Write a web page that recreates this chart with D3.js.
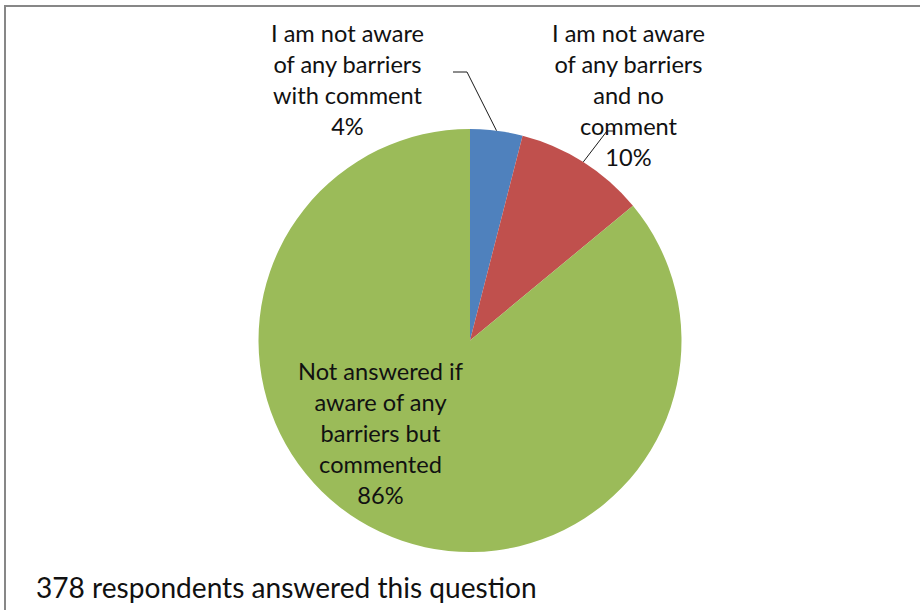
<!DOCTYPE html>
<html>
<head>
<meta charset="utf-8">
<script src="https://cdn.jsdelivr.net/npm/d3@7"></script>
<style>
  html, body { margin: 0; padding: 0; background: #fff; }
  svg { display: block; }
  text { font-family: Lato, "Open Sans", sans-serif; fill: #111; }
</style>
</head>
<body>
<svg id="chart" width="920" height="610"></svg>
<script>
// Survey answers about awareness of barriers (percent of respondents)
const categories = [
  "I am not aware of any barriers with comment",
  "I am not aware of any barriers and no comment",
  "Not answered if aware of any barriers but commented"
];
const values = [4, 10, 86];
const colors = ["#4F81BD", "#C0504D", "#9BBB59"];
// Wrapped label lines for each slice
const labelLines = [
  ["I am not aware", "of any barriers", "with comment"],
  ["I am not aware", "of any barriers", "and no", "comment"],
  ["Not answered if", "aware of any", "barriers but", "commented"]
];
const footnote = "378 respondents answered this question";

const W = 920, H = 610;
const cx = 470, cy = 340.5, R = 211.5;
const fontSize = 23.6, lineH = 31;

const svg = d3.select("#chart");

// Chart frame (left and top edges visible)
svg.append("path")
  .attr("d", `M5,${H} L5,6 L${W},6`)
  .attr("fill", "none")
  .attr("stroke", "#878787")
  .attr("stroke-width", 2);

const pie = d3.pie().value(d => d).sort(null);
const arcs = pie(values);
const arc = d3.arc().innerRadius(0).outerRadius(R);

const g = svg.append("g").attr("transform", `translate(${cx},${cy})`);

g.selectAll("path.slice")
  .data(arcs)
  .join("path")
  .attr("class", "slice")
  .attr("d", arc)
  .attr("fill", (d, i) => colors[i]);

// Label anchor (centre x, first baseline y) for each slice, relative to the page
const labelPos = [
  { x: 347.5, y: 41.5, outside: true, elbow: [467, 72], tail: -14 },
  { x: 628.5, y: 41.5, outside: true, elbow: [607, 131], tail: 8 },
  { x: 380.5, y: 380, outside: false }
];

// Leader lines from the slice edge to the outside labels
const edge = d3.arc().innerRadius(R).outerRadius(R);
arcs.forEach((a, i) => {
  const p = labelPos[i];
  if (!p.outside) return;
  const [sx, sy] = edge.centroid(a);
  const start = [cx + sx, cy + sy];
  const elbow = p.elbow;
  const end = [elbow[0] + p.tail, elbow[1]];
  svg.append("path")
    .attr("d", d3.line()([start, elbow, end]))
    .attr("fill", "none")
    .attr("stroke", "#1a1a1a")
    .attr("stroke-width", 1);
});

// Slice labels: category lines followed by the percentage
arcs.forEach((a, i) => {
  const p = labelPos[i];
  const lines = labelLines[i].concat([values[i] + "%"]);
  const t = svg.append("text")
    .attr("text-anchor", "middle")
    .attr("font-size", fontSize);
  lines.forEach((ln, k) => {
    t.append("tspan")
      .attr("x", p.x)
      .attr("y", p.y + k * lineH)
      .text(ln);
  });
});

svg.append("text")
  .attr("x", 36)
  .attr("y", 598)
  .attr("font-size", 28.1)
  .text(footnote);
</script>
</body>
</html>
